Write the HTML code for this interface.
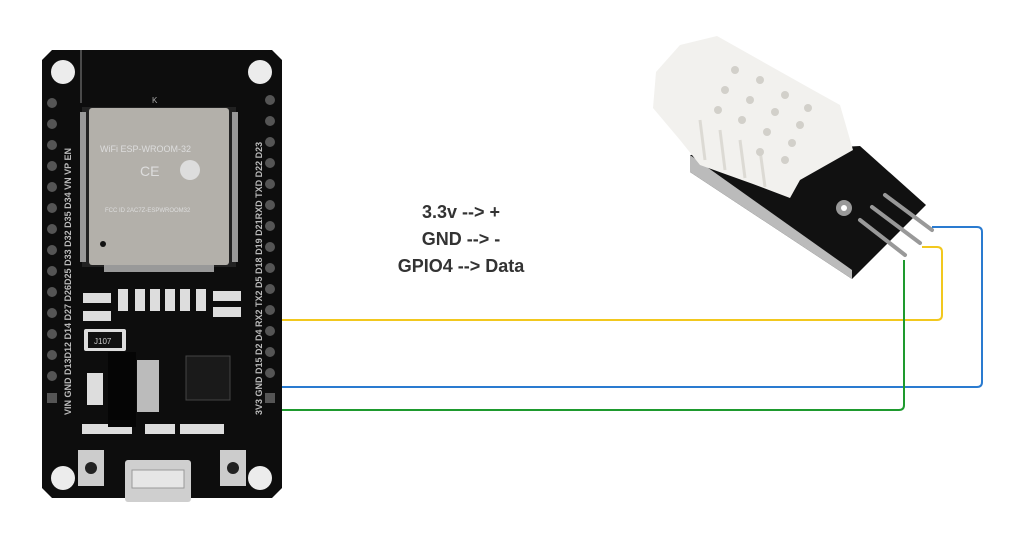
<!DOCTYPE html>
<html><head><style>
html,body{margin:0;padding:0;background:#fff;}
svg{display:block}
</style></head><body>
<svg width="1024" height="543" viewBox="0 0 1024 543" xmlns="http://www.w3.org/2000/svg">
<rect width="1024" height="543" fill="#fff"/>
<!-- ESP32 board -->
<path d="M52,50 L272,50 L282,60 L282,488 L272,498 L52,498 L42,488 L42,60 Z" fill="#0d0d0d"/>
<line x1="81" y1="50" x2="81" y2="103" stroke="#888" stroke-width="1"/>
<circle cx="63" cy="72" r="12" fill="#ececec"/>
<circle cx="260" cy="72" r="12" fill="#ececec"/>
<circle cx="63" cy="478" r="12" fill="#ececec"/>
<circle cx="260" cy="478" r="12" fill="#ececec"/>
<g fill="#555">
<circle cx="52" cy="103" r="5"/><circle cx="52" cy="124" r="5"/><circle cx="52" cy="145" r="5"/><circle cx="52" cy="166" r="5"/><circle cx="52" cy="187" r="5"/><circle cx="52" cy="208" r="5"/><circle cx="52" cy="229" r="5"/><circle cx="52" cy="250" r="5"/><circle cx="52" cy="271" r="5"/><circle cx="52" cy="292" r="5"/><circle cx="52" cy="313" r="5"/><circle cx="52" cy="334" r="5"/><circle cx="52" cy="355" r="5"/><circle cx="52" cy="376" r="5"/><rect x="47" y="393" width="10" height="10"/>
<circle cx="270" cy="100" r="5"/><circle cx="270" cy="121" r="5"/><circle cx="270" cy="142" r="5"/><circle cx="270" cy="163" r="5"/><circle cx="270" cy="184" r="5"/><circle cx="270" cy="205" r="5"/><circle cx="270" cy="226" r="5"/><circle cx="270" cy="247" r="5"/><circle cx="270" cy="268" r="5"/><circle cx="270" cy="289" r="5"/><circle cx="270" cy="310" r="5"/><circle cx="270" cy="331" r="5"/><circle cx="270" cy="352" r="5"/><circle cx="270" cy="373" r="5"/><rect x="265" y="393" width="10" height="10"/>
</g>
<g fill="#bbb" font-family="Liberation Sans, sans-serif" font-size="9" font-weight="bold">
<text transform="translate(71,415) rotate(-90)">VIN GND D13D12 D14 D27 D26D25 D33 D32 D35 D34 VN VP EN</text>
<text transform="translate(262,415) rotate(-90)">3V3 GND D15 D2 D4 RX2 TX2 D5 D18 D19 D21RXD TXD D22 D23</text>
</g>
<rect x="82" y="107" width="154" height="160" fill="#222"/>
<g fill="#999"><rect x="80" y="112" width="6" height="150"/><rect x="232" y="112" width="6" height="150"/><rect x="104" y="265" width="110" height="7"/></g>
<rect x="89" y="108" width="140" height="157" rx="3" fill="#b3b0aa"/>
<text x="100" y="152" fill="#ddd" font-family="Liberation Sans, sans-serif" font-size="9">WiFi ESP-WROOM-32</text>
<text x="140" y="176" fill="#ddd" font-family="Liberation Sans, sans-serif" font-size="14">CE</text>
<circle cx="190" cy="170" r="10" fill="#ddd"/>
<text x="105" y="212" fill="#ddd" font-family="Liberation Sans, sans-serif" font-size="6">FCC ID 2AC7Z-ESPWROOM32</text>
<circle cx="103" cy="244" r="3" fill="#111"/>
<text x="152" y="103" fill="#aaa" font-family="Liberation Sans, sans-serif" font-size="8">K</text>
<g fill="#ddd">
<rect x="83" y="293" width="28" height="10"/><rect x="83" y="311" width="28" height="10"/>
<rect x="118" y="289" width="10" height="22"/><rect x="135" y="289" width="10" height="22"/><rect x="150" y="289" width="10" height="22"/><rect x="165" y="289" width="10" height="22"/><rect x="180" y="289" width="10" height="22"/><rect x="196" y="289" width="10" height="22"/>
<rect x="213" y="291" width="28" height="10"/><rect x="213" y="307" width="28" height="10"/>
<rect x="84" y="329" width="42" height="22" rx="2"/>
<rect x="87" y="373" width="16" height="32"/>
<rect x="137" y="360" width="22" height="52" fill="#bbb"/>
<rect x="82" y="424" width="50" height="10"/><rect x="180" y="424" width="44" height="10"/><rect x="145" y="424" width="30" height="10"/>
</g>
<rect x="88" y="332" width="34" height="16" fill="#111"/>
<text x="94" y="344" fill="#ccc" font-family="Liberation Sans, sans-serif" font-size="8">J107</text>
<rect x="108" y="352" width="28" height="75" fill="#050505"/>
<rect x="186" y="356" width="44" height="44" fill="#1a1a1a" stroke="#444"/>
<rect x="78" y="450" width="26" height="36" fill="#ccc"/><circle cx="91" cy="468" r="6" fill="#222"/>
<rect x="220" y="450" width="26" height="36" fill="#ccc"/><circle cx="233" cy="468" r="6" fill="#222"/>
<rect x="125" y="460" width="66" height="42" rx="3" fill="#cfcfcf"/>
<rect x="132" y="470" width="52" height="18" fill="#e6e6e6" stroke="#999"/>
<!-- sensor PCB -->
<polygon points="690,155 860,146 926,205 852,279 690,172" fill="#111"/>
<polygon points="690,155 690,172 852,279 852,270" fill="#bbb"/>
<!-- white body -->
<polygon points="717,36 813,90 840,105 853,150 800,180 790,198 753,184 700,165 680,140 653,108 656,72 680,45" fill="#f2f1ee"/>
<g stroke="#dcdad4" stroke-width="3">
<line x1="700" y1="120" x2="705" y2="160"/><line x1="720" y1="130" x2="725" y2="170"/><line x1="740" y1="140" x2="745" y2="178"/><line x1="760" y1="150" x2="765" y2="187"/>
</g>
<g fill="#d2d0ca">
<circle cx="735" cy="70" r="4"/><circle cx="760" cy="80" r="4"/><circle cx="785" cy="95" r="4"/><circle cx="808" cy="108" r="4"/>
<circle cx="725" cy="90" r="4"/><circle cx="750" cy="100" r="4"/><circle cx="775" cy="112" r="4"/><circle cx="800" cy="125" r="4"/>
<circle cx="718" cy="110" r="4"/><circle cx="742" cy="120" r="4"/><circle cx="767" cy="132" r="4"/><circle cx="792" cy="143" r="4"/>
<circle cx="760" cy="152" r="4"/><circle cx="785" cy="160" r="4"/>
</g>
<circle cx="844" cy="208" r="8" fill="#999"/><circle cx="844" cy="208" r="3" fill="#fff"/>
<g stroke="#999" stroke-width="4" stroke-linecap="round">
<line x1="885" y1="195" x2="932" y2="230"/>
<line x1="872" y1="207" x2="920" y2="243"/>
<line x1="860" y1="220" x2="905" y2="255"/>
</g>
<g fill="none" stroke-width="2">
<path d="M282,320 H937 Q942,320 942,315 V252 Q942,247 937,247 H922" stroke="#f2c81e"/>
<path d="M282,387 H977 Q982,387 982,382 V232 Q982,227 977,227 H932" stroke="#2a7bd0"/>
<path d="M282,410 H899 Q904,410 904,405 V260" stroke="#1e9a2e"/>
</g>
<g font-family="Liberation Sans, sans-serif" font-weight="bold" font-size="18" fill="#333" text-anchor="middle">
<text x="461" y="218">3.3v --&gt; +</text>
<text x="461" y="245">GND --&gt; -</text>
<text x="461" y="272">GPIO4 --&gt; Data</text>
</g>
</svg>
</body></html>
